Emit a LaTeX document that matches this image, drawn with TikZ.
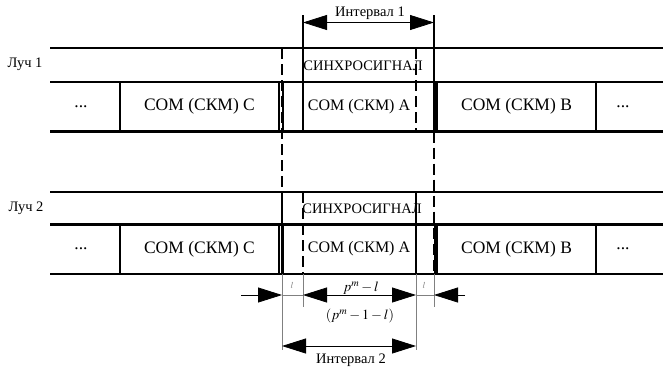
\documentclass[tikz,border=0pt]{standalone}
\usepackage{mathptmx}
\usepackage{fontspec}
\setmainfont{Liberation Serif}
\usetikzlibrary{arrows.meta}
\tikzset{>={Triangle[length=24pt,width=15pt]}}
\tikzset{
  rail/.style={line width=2.4pt},
  slot/.style={draw, line width=2pt, minimum height=49pt, inner sep=0pt,
    font=\fontsize{17.5}{20}\selectfont},
  solidmark/.style={line width=1.2pt},
  dashmark/.style={line width=1.5pt, dash pattern=on 11pt off 5pt},
  guide/.style={line width=0.8pt, gray},
  lbl/.style={inner sep=0pt, font=\fontsize{14.5}{16}\selectfont},
}

\begin{document}
\begin{tikzpicture}[x=1pt,y=-1pt]
  \useasboundingbox (0,0) rectangle (663,368);
  % rails
  \foreach \y in {48,82,131.5,192,224.5,274}
    \draw[rail] (50,\y) -- (663,\y);
  % slots of both rays
  \foreach \r/\y in {1/106.5,2/249} {
    \node[lbl, font=\fontsize{17.5}{20}\selectfont] (d\r l) at (81,\y) {...};
    \node[slot, minimum width=159pt] (c\r) at (199.5,\y) {СОМ (СКМ) С};
    \node[slot, minimum width=152pt, font=\fontsize{16}{18}\selectfont] (a\r) at (359,\y) {СОМ (СКМ) А};
    \node[slot, minimum width=159pt] (b\r) at (516.5,\y) {СОМ (СКМ) В};
    \node[lbl, font=\fontsize{17.5}{20}\selectfont] (d\r r) at (623,\y) {...};
  }
  \node[lbl] (ray1) at (25,64) {Луч 1};
  \node[lbl] (ray2) at (26,208) {Луч 2};
  \node[lbl] (sync1) at (363,65.5) {СИНХРОСИГНАЛ};
  \node[lbl] (sync2) at (362,209) {СИНХРОСИГНАЛ};

  % marks
  \coordinate (p1) at (303,15);   \coordinate (q1) at (303,131.5);
  \coordinate (p2) at (434,15);   \coordinate (q2) at (434,131.5);
  \coordinate (p3) at (282,48);   \coordinate (q3) at (282,192);
  \coordinate (p4) at (416,48);   \coordinate (q4) at (416,131.5);
  \coordinate (q5) at (434,274);
  \coordinate (q6) at (282,274);  \coordinate (q7) at (416,192);
  \coordinate (q8) at (416,274);  \coordinate (q9) at (303,192);
  \coordinate (q10) at (303,274);
  \draw[solidmark] (p1) -- (q1);
  \draw[solidmark] (p2) -- (q2);
  \draw[dashmark] (p3) -- (q3);
  \draw[dashmark] (p4) -- (q4);
  \draw[dashmark] (q2) -- (q5);
  \draw[solidmark] (q3) -- (q6);
  \draw[solidmark] (q7) -- (q8);
  \draw[dashmark] (q9) -- (q10);

  % guides below
  \coordinate (e1) at (282,350);  \coordinate (e2) at (416,350);
  \coordinate (e3) at (303,307);  \coordinate (e4) at (434,307);
  \draw[guide] (q6) -- (e1);
  \draw[guide] (q8) -- (e2);
  \draw[guide] (q10) -- (e3);
  \draw[guide] (q5) -- (e4);

  % intervals
  \coordinate (i1a) at (303,22.5); \coordinate (i1b) at (434,22.5);
  \draw[<->, line width=0.8pt] (i1a) -- (i1b);
  \node[lbl] (int1) at (370,13.5) {Интервал 1};

  \coordinate (s0) at (241,295);  \coordinate (s1) at (282,295);
  \coordinate (s2) at (303,295);  \coordinate (s3) at (416,295);
  \coordinate (s4) at (434,295);  \coordinate (s5) at (465,295);
  \draw[->, line width=0.8pt] (s0) -- (s1);
  \draw[guide] (s1) -- (s2);
  \draw[<->, line width=0.8pt] (s2) -- (s3);
  \draw[guide] (s3) -- (s4);
  \draw[->, line width=0.8pt] (s5) -- (s4);
  \node[lbl, text=gray, font=\fontsize{9}{10}\selectfont] (l1) at (292,285) {$l$};
  \node[lbl, text=gray, font=\fontsize{9}{10}\selectfont] (l2) at (424,285) {$l$};
  \node[lbl, font=\fontsize{14}{16}\selectfont] (len1) at (361,288) {$p^m-l$};
  \node[lbl, font=\fontsize{14}{16}\selectfont] (len2) at (360,316) {$(p^m-1-l)$};

  \coordinate (i2a) at (282,346); \coordinate (i2b) at (416,346);
  \draw[<->, line width=0.8pt] (i2a) -- (i2b);
  \node[lbl] (int2) at (351,360) {Интервал 2};
\end{tikzpicture}
\end{document}
